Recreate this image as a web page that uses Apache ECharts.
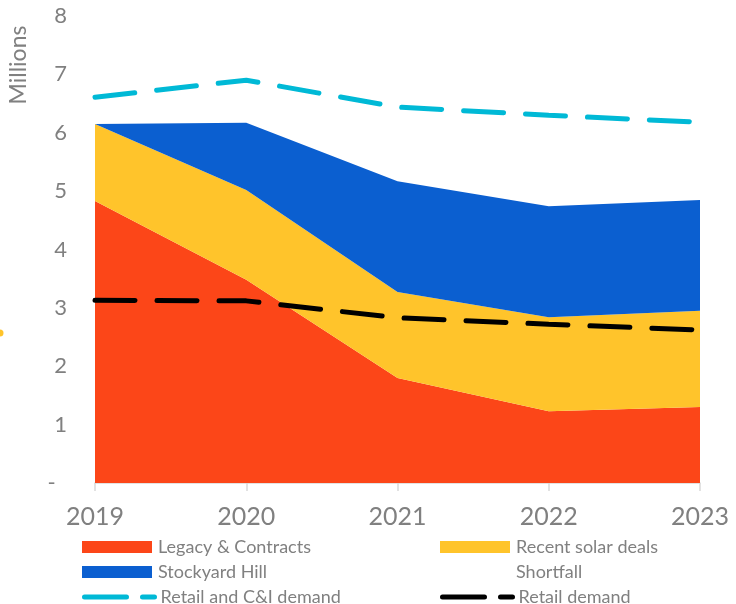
<!DOCTYPE html>
<html>
<head>
<meta charset="utf-8">
<script src="https://cdn.jsdelivr.net/npm/echarts@6/dist/echarts.min.js"></script>
<style>
  html, body { margin: 0; padding: 0; background: #fff; }
  #chart { width: 736px; height: 604px; }
</style>
</head>
<body>
<div id="chart"></div>
<script>
  // categories
  const years = ['2019', '2020', '2021', '2022', '2023'];
  // stacked supply (millions)
  const legacy = [4.83, 3.48, 1.80, 1.23, 1.30];
  const solar = [1.32, 1.54, 1.47, 1.61, 1.65];
  const stockyard = [0.0, 1.15, 1.90, 1.90, 1.90];
  const shortfall = [];
  // demand lines
  const retailCI = [6.61, 6.90, 6.44, 6.30, 6.18];
  const retail = [3.13, 3.12, 2.83, 2.72, 2.62];

  const grey = '#808080';
  const font = 'Lato, "Open Sans", sans-serif';

  let chart = echarts.init(document.getElementById('chart'));

  let dash = {width: 5, type: [40, 22], cap: 'round'};

  // one legend per entry so the two columns line up
  function areaItem(name) {
    return {name: name, icon: 'rect'};
  }
  function lineItem(name, color) {
    return {
      name: name,
      itemStyle: {color: 'rgba(0,0,0,0)', borderWidth: 0, opacity: 0},
      lineStyle: {color: color, width: 5, type: [42, 16], cap: 'round'}
    };
  }
  function legendAt(left, top, item) {
    return {
      left: left, top: top, padding: 0,
      itemWidth: 70, itemHeight: 12,
      textStyle: {color: grey, fontSize: 18, lineHeight: 18, fontFamily: font, padding: [0, 0, 0, 1]},
      data: [item]
    };
  }

  chart.setOption({
    animation: false,
    grid: {left: 95, right: 36, top: 16, bottom: 121},
    legend: [
      legendAt(82, 538, areaItem('Legacy & Contracts')),
      legendAt(82, 563, areaItem('Stockyard Hill')),
      legendAt(82, 588, lineItem('Retail and C&I demand', '#00B9D6')),
      legendAt(440, 538, areaItem('Recent solar deals')),
      legendAt(440, 563, areaItem('Shortfall')),
      legendAt(440, 588, lineItem('Retail demand', '#000'))
    ],
    xAxis: {
      type: 'category',
      data: years,
      boundaryGap: false,
      axisLine: {lineStyle: {color: '#d9d9d9', width: 1.5}},
      axisTick: {show: true, length: 8, lineStyle: {color: '#d9d9d9', width: 1.5}},
      axisLabel: {color: grey, fontSize: 25, fontFamily: font, margin: 21}
    },
    yAxis: {
      type: 'value',
      min: 0, max: 8, interval: 1,
      axisLine: {show: false},
      axisTick: {show: false},
      splitLine: {show: false},
      axisLabel: {
        color: grey, fontSize: 22, fontFamily: font, margin: 28,
        formatter: v => v === 0 ? '-  ' : String(v)
      }
    },
    graphic: [
      {
        type: 'text', x: 19, y: 65, rotation: Math.PI / 2,
        style: {text: 'Millions', fill: grey, font: '23px ' + font, align: 'center', verticalAlign: 'middle'}
      },
      {
        type: 'circle', shape: {cx: 0, cy: 333, r: 3.5}, style: {fill: '#FFC42B'}
      }
    ],
    series: [
      {
        name: 'Legacy & Contracts', type: 'line', stack: 'supply', data: legacy,
        symbol: 'none', lineStyle: {width: 0}, color: '#FC4618',
        areaStyle: {color: '#FC4618', opacity: 1}
      },
      {
        name: 'Recent solar deals', type: 'line', stack: 'supply', data: solar,
        symbol: 'none', lineStyle: {width: 0}, color: '#FFC42B',
        areaStyle: {color: '#FFC42B', opacity: 1}
      },
      {
        name: 'Stockyard Hill', type: 'line', stack: 'supply', data: stockyard,
        symbol: 'none', lineStyle: {width: 0}, color: '#0B5FD0',
        areaStyle: {color: '#0B5FD0', opacity: 1}
      },
      {
        name: 'Shortfall', type: 'line', stack: 'supply', data: shortfall,
        symbol: 'none', lineStyle: {width: 0}, color: 'rgba(0,0,0,0)',
        areaStyle: {color: 'rgba(0,0,0,0)'}
      },
      {
        name: 'Retail and C&I demand', type: 'line', data: retailCI,
        symbol: 'none', color: '#00B9D6', lineStyle: Object.assign({color: '#00B9D6'}, dash)
      },
      {
        name: 'Retail demand', type: 'line', data: retail,
        symbol: 'none', color: '#000', lineStyle: Object.assign({color: '#000'}, dash)
      }
    ]
  });
</script>
</body>
</html>
